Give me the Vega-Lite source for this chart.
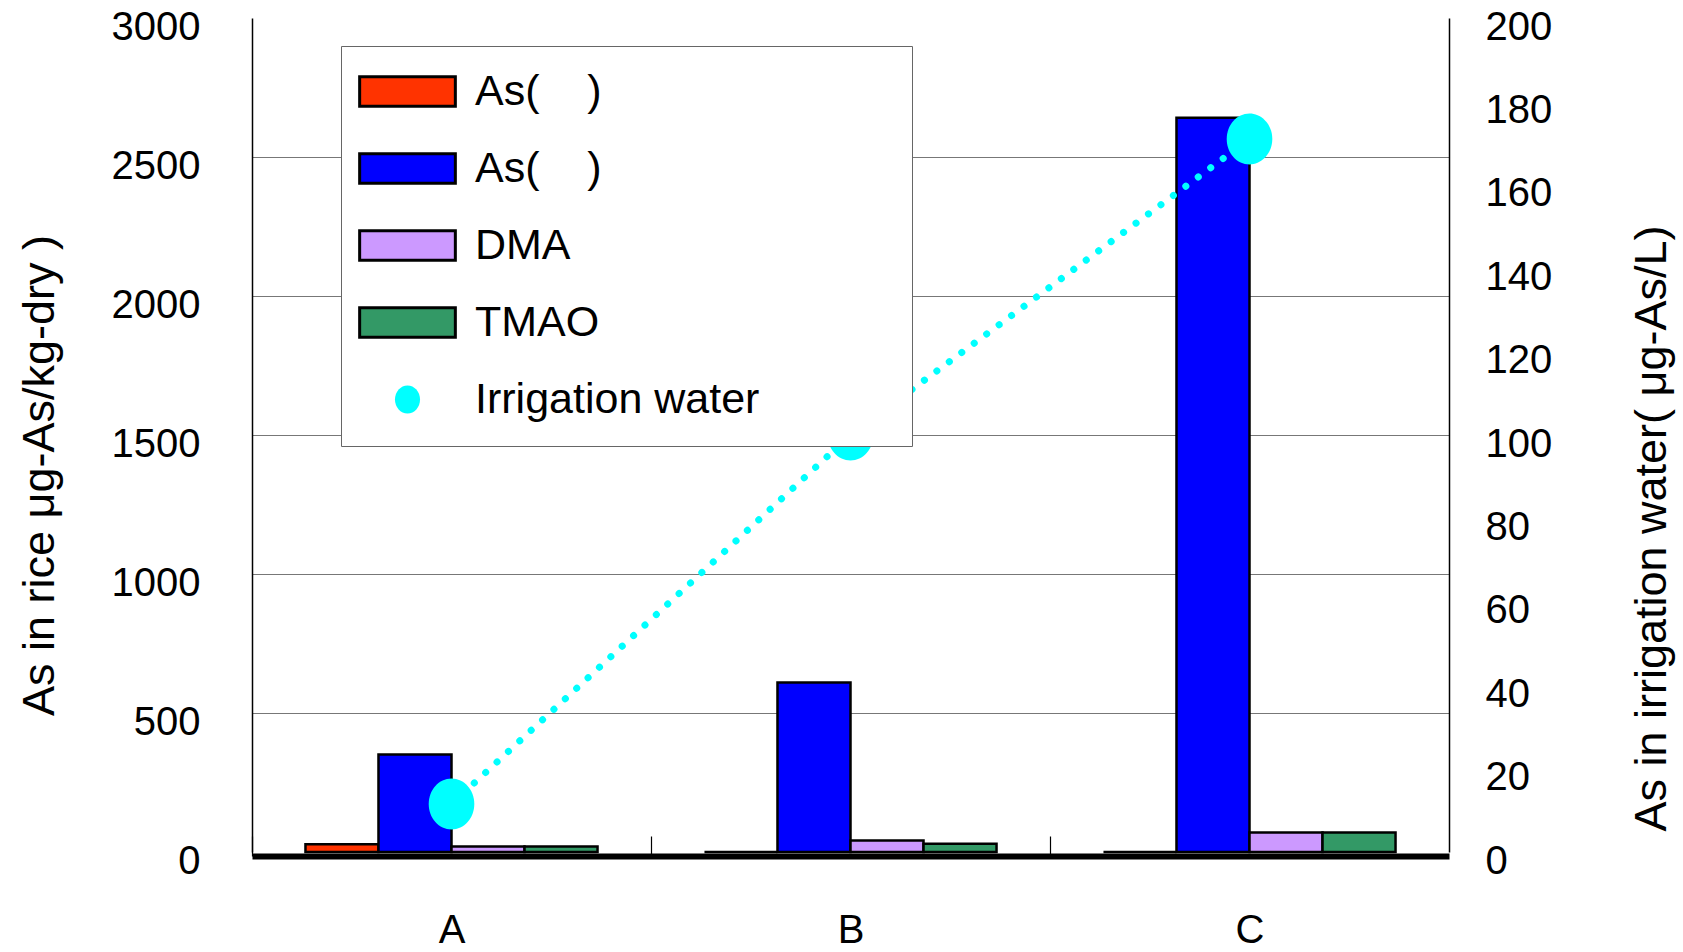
{
  "$schema": "https://vega.github.io/schema/vega-lite/v6.json",
  "width": 1197,
  "height": 834,
  "autosize": {"type": "none"},
  "padding": {"left": 252, "top": 18, "right": 234, "bottom": 100},
  "background": "white",
  "config": {
    "view": {"stroke": null},
    "font": "Liberation Sans",
    "axis": {"labelFont": "Liberation Sans", "titleFont": "Liberation Sans", "labelColor": "black", "titleColor": "black", "titleFontWeight": "normal"},
    "legend": {"labelFont": "Liberation Sans"}
  },
  "datasets": {
    "rice": [
      {"site": "A", "species": "As(III)", "value": 28},
      {"site": "A", "species": "As(V)", "value": 351},
      {"site": "A", "species": "DMA", "value": 20},
      {"site": "A", "species": "TMAO", "value": 20},
      {"site": "B", "species": "As(III)", "value": 0},
      {"site": "B", "species": "As(V)", "value": 610},
      {"site": "B", "species": "DMA", "value": 41},
      {"site": "B", "species": "TMAO", "value": 30},
      {"site": "C", "species": "As(III)", "value": 0},
      {"site": "C", "species": "As(V)", "value": 2641},
      {"site": "C", "species": "DMA", "value": 70},
      {"site": "C", "species": "TMAO", "value": 70}
    ],
    "water": [
      {"site": "A", "species": "Irrigation water", "water": 11.5},
      {"site": "B", "species": "Irrigation water", "water": 100},
      {"site": "C", "species": "Irrigation water", "water": 171}
    ]
  },
  "encoding": {
    "x": {
      "field": "site", "type": "nominal",
      "scale": {"paddingInner": 0.268, "paddingOuter": 0.134},
      "axis": {
        "title": null, "labelAngle": 0, "labelFontSize": 40, "labelPadding": 74,
        "labelOffset": 199.5,
        "domainColor": "black", "domainWidth": 6, "offset": 4,
        "tickColor": "black", "tickSize": -20, "tickWidth": 1.2, "tickOffset": -199.5,
        "grid": false
      }
    }
  },
  "layer": [
    {
      "data": {"name": "rice"},
      "mark": {"type": "bar", "stroke": "black", "strokeWidth": 2.5},
      "encoding": {
        "xOffset": {"field": "species", "type": "nominal", "sort": ["As(III)", "As(V)", "DMA", "TMAO"], "scale": {"paddingInner": 0, "paddingOuter": 0}},
        "y": {
          "field": "value", "type": "quantitative",
          "scale": {"domain": [0, 3000], "nice": false},
          "axis": {
            "orient": "left",
            "values": [0, 500, 1000, 1500, 2000, 2500, 3000],
            "format": "d",
            "title": "As in rice μg-As/kg-dry )",
            "titleFontSize": 45, "titleAngle": 270, "titleX": -199, "titleY": 457,
            "titleBaseline": "alphabetic", "titleAlign": "center",
            "labelFontSize": 40, "labelPadding": 52, "labelOffset": 9,
            "ticks": false,
            "domainColor": "black", "domainWidth": 1.5,
            "grid": true,
            "gridColor": {"condition": {"test": "datum.value === 3000 || datum.value === 0", "value": "transparent"}, "value": "#777777"},
            "gridWidth": 1
          }
        },
        "color": {
          "field": "species", "type": "nominal",
          "scale": {
            "domain": ["As(III)", "As(V)", "DMA", "TMAO", "Irrigation water"],
            "range": ["#FF3300", "#0000FF", "#CC99FF", "#339966", "#00FFFF"]
          },
          "legend": {
            "title": null,
            "orient": "none", "legendX": 89, "legendY": 28,
            "padding": 24,
            "strokeColor": "#666666", "fillColor": "white",
            "symbolSize": 1089, "symbolOffset": 21, "labelOffset": 46,
            "symbolStrokeWidth": 3, "symbolOpacity": 1,
            "labelFontSize": 43, "labelColor": "black", "labelLimit": 1000,
            "rowPadding": 33,
            "labelExpr": "datum.value === 'As(III)' || datum.value === 'As(V)' ? 'As(\u00a0\u00a0\u00a0\u00a0)' : (datum.value === 'Irrigation water' ? 'Irrigation water\u2800\u2800\u2800\u2800' : datum.label)"
          }
        }
      }
    },
    {
      "data": {"name": "water"},
      "layer": [
        {
          "mark": {"type": "line", "color": "#00FFFF", "strokeWidth": 7, "strokeDash": [0.1, 15.4], "strokeCap": "round"},
          "encoding": {
            "y": {"field": "water", "type": "quantitative", "scale": {"domain": [0, 200], "nice": false},
              "axis": {
                "orient": "right",
                "values": [0, 20, 40, 60, 80, 100, 120, 140, 160, 180, 200],
                "title": "As in irrigation water( μg-As/L)",
                "titleFontSize": 45, "titleAngle": 270, "titleX": 216, "titleY": 510,
                "titleBaseline": "alphabetic", "titleAlign": "center",
                "labelFontSize": 40, "labelPadding": 36, "labelOffset": 9,
                "ticks": false, "grid": false,
                "domainColor": "black", "domainWidth": 1.5
              }
            }
          }
        },
        {
          "mark": {"type": "point", "filled": true, "opacity": 1, "size": 3600},
          "encoding": {
            "y": {"field": "water", "type": "quantitative"},
            "color": {"field": "species", "type": "nominal"},
            "shape": {
              "field": "species", "type": "nominal",
              "scale": {
                "domain": ["As(III)", "As(V)", "DMA", "TMAO", "Irrigation water"],
                "range": ["M-2.9,-0.9H2.9V0.9H-2.9Z", "M-2.9,-0.9H2.9V0.9H-2.9Z", "M-2.9,-0.9H2.9V0.9H-2.9Z", "M-2.9,-0.9H2.9V0.9H-2.9Z", "M-0.76,0A0.76,0.85 0 1,0 0.76,0A0.76,0.85 0 1,0 -0.76,0Z"]
              }
            },
            "stroke": {
              "field": "species", "type": "nominal",
              "scale": {
                "domain": ["As(III)", "As(V)", "DMA", "TMAO", "Irrigation water"],
                "range": ["black", "black", "black", "black", "transparent"]
              }
            }
          }
        }
      ]
    }
  ],
  "resolve": {"scale": {"y": "independent"}, "axis": {"y": "independent"}}
}
